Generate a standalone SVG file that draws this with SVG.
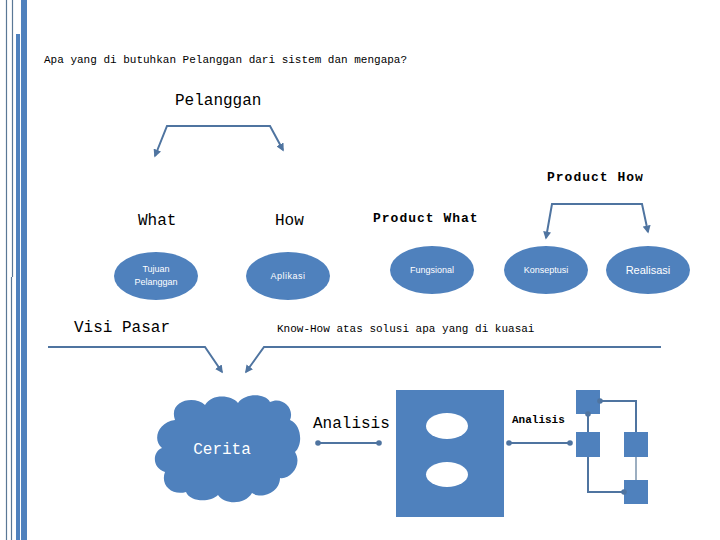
<svg xmlns="http://www.w3.org/2000/svg" width="720" height="540" viewBox="0 0 720 540">
<style>
.mono{font-family:"Liberation Mono","DejaVu Sans Mono",monospace;fill:#000}
.sans{font-family:"Liberation Sans","DejaVu Sans",sans-serif}
.w{fill:#fff}
.shape{fill:#4F81BD}
.ln{stroke:#4F74A0;stroke-width:2;fill:none}
.thin{stroke:#5A7896;stroke-width:1.2;fill:none}
</style>
<defs>
<marker id="ah" viewBox="0 0 10 10" refX="8" refY="5" markerWidth="4" markerHeight="4" orient="auto-start-reverse">
<path d="M0,0 L10,5 L0,10 z" fill="#4F74A0"/>
</marker>
<marker id="dot" viewBox="0 0 10 10" refX="5" refY="5" markerWidth="3.5" markerHeight="3.5">
<circle cx="5" cy="5" r="4" fill="#4F74A0"/>
</marker>
</defs>
<rect width="720" height="540" fill="#fff"/>
<g id="border">
<line x1="6.5" y1="0" x2="6.5" y2="540" class="thin"/>
<line x1="12.5" y1="0" x2="12.5" y2="277" class="thin"/>
<line x1="11.5" y1="277" x2="11.5" y2="540" class="thin"/>
<rect x="16" y="34" width="4" height="506" class="shape"/>
<rect x="21" y="0" width="6" height="540" class="shape"/>
</g>
<g id="title"><text x="44" y="63" class="mono" font-size="11">Apa yang di butuhkan Pelanggan dari sistem dan mengapa?</text></g>
<g id="pelanggan"><text x="175" y="105" class="mono" font-size="16">Pelanggan</text></g>
<g id="what"><text x="138" y="225" class="mono" font-size="16">What</text></g>
<g id="how"><text x="275" y="225" class="mono" font-size="16">How</text></g>
<g id="product-what"><text x="373" y="222" class="mono" font-size="13" font-weight="bold" letter-spacing="1">Product What</text></g>
<g id="product-how"><text x="547" y="181" class="mono" font-size="13" font-weight="bold" letter-spacing="1">Product How</text></g>
<g id="tujuan"><ellipse cx="156" cy="276" rx="42" ry="24" class="shape"/>
<text x="156" y="272" class="sans w" font-size="9" text-anchor="middle">Tujuan</text>
<text x="156" y="285" class="sans w" font-size="9" text-anchor="middle">Pelanggan</text></g>
<g id="aplikasi"><ellipse cx="288" cy="276" rx="42" ry="24" class="shape"/>
<text x="288" y="279" class="sans w" font-size="9" text-anchor="middle" letter-spacing="0.5">Aplikasi</text></g>
<g id="fungsional"><ellipse cx="432" cy="270" rx="42" ry="24" class="shape"/>
<text x="432" y="273" class="sans w" font-size="9" text-anchor="middle">Fungsional</text></g>
<g id="konseptusi"><ellipse cx="546" cy="270" rx="42" ry="24" class="shape"/>
<text x="546" y="273" class="sans w" font-size="9" text-anchor="middle">Konseptusi</text></g>
<g id="realisasi"><ellipse cx="648" cy="270" rx="42" ry="24" class="shape"/>
<text x="648" y="274" class="sans w" font-size="11" text-anchor="middle">Realisasi</text></g>
<g id="visi"><text x="74" y="332" class="mono" font-size="16">Visi Pasar</text></g>
<g id="knowhow"><text x="277" y="332" class="mono" font-size="11">Know-How atas solusi apa yang di kuasai</text></g>
<g id="cerita">
<path class="shape" d="M175,420 C168,400 195,395 205,405 C212,393 232,395 238,403 C245,393 265,393 270,402 C282,396 295,408 290,420 C302,425 303,445 295,452 C303,465 290,480 280,478 C280,492 262,500 252,493 C245,505 225,505 218,495 C210,503 190,502 186,492 C172,496 160,485 165,472 C152,468 152,452 162,448 C152,440 158,422 175,420 Z"/>
<text x="222" y="454" class="mono w" font-size="16" text-anchor="middle">Cerita</text></g>
<g id="analisis1"><text x="313" y="428" class="mono" font-size="16">Analisis</text></g>
<g id="document"><rect x="396" y="390" width="108" height="127" class="shape"/>
<ellipse cx="447" cy="426" rx="21" ry="13" fill="#fff"/>
<ellipse cx="447" cy="474.5" rx="21" ry="12.5" fill="#fff"/></g>
<g id="analisis2"><text x="512" y="423" class="mono" font-size="11" font-weight="bold">Analisis</text></g>
<g id="sq1"><rect x="576" y="390" width="24" height="24" class="shape"/></g>
<g id="sq2"><rect x="576" y="432" width="24" height="25" class="shape"/></g>
<g id="sq3"><rect x="624" y="432" width="24" height="25" class="shape"/></g>
<g id="sq4"><rect x="624" y="480" width="24" height="24" class="shape"/></g>
<g id="connectors">
<polyline class="ln" points="155,156 167,126 270,126 283,150" marker-start="url(#ah)" marker-end="url(#ah)"/>
<polyline class="ln" points="546,238 552,204 642,204 648,232" marker-start="url(#ah)" marker-end="url(#ah)"/>
<polyline class="ln" points="48,347 205,347 222,372" marker-end="url(#ah)"/>
<polyline class="ln" points="661,347 264,347 246,372" marker-end="url(#ah)"/>
<line class="ln" x1="318" y1="443" x2="379" y2="443" marker-start="url(#dot)" marker-end="url(#dot)"/>
<line class="ln" x1="509" y1="443" x2="570" y2="443" marker-start="url(#dot)" marker-end="url(#dot)"/>
<line class="ln" x1="588" y1="432" x2="588" y2="414" marker-end="url(#dot)"/>
<polyline class="ln" points="636,432 636,401 600,401" marker-end="url(#dot)"/>
<polyline class="ln" points="588,457 588,492 624,492" marker-end="url(#dot)"/>
<line class="thin" x1="636" y1="457" x2="636" y2="480"/>
</g>
</svg>
